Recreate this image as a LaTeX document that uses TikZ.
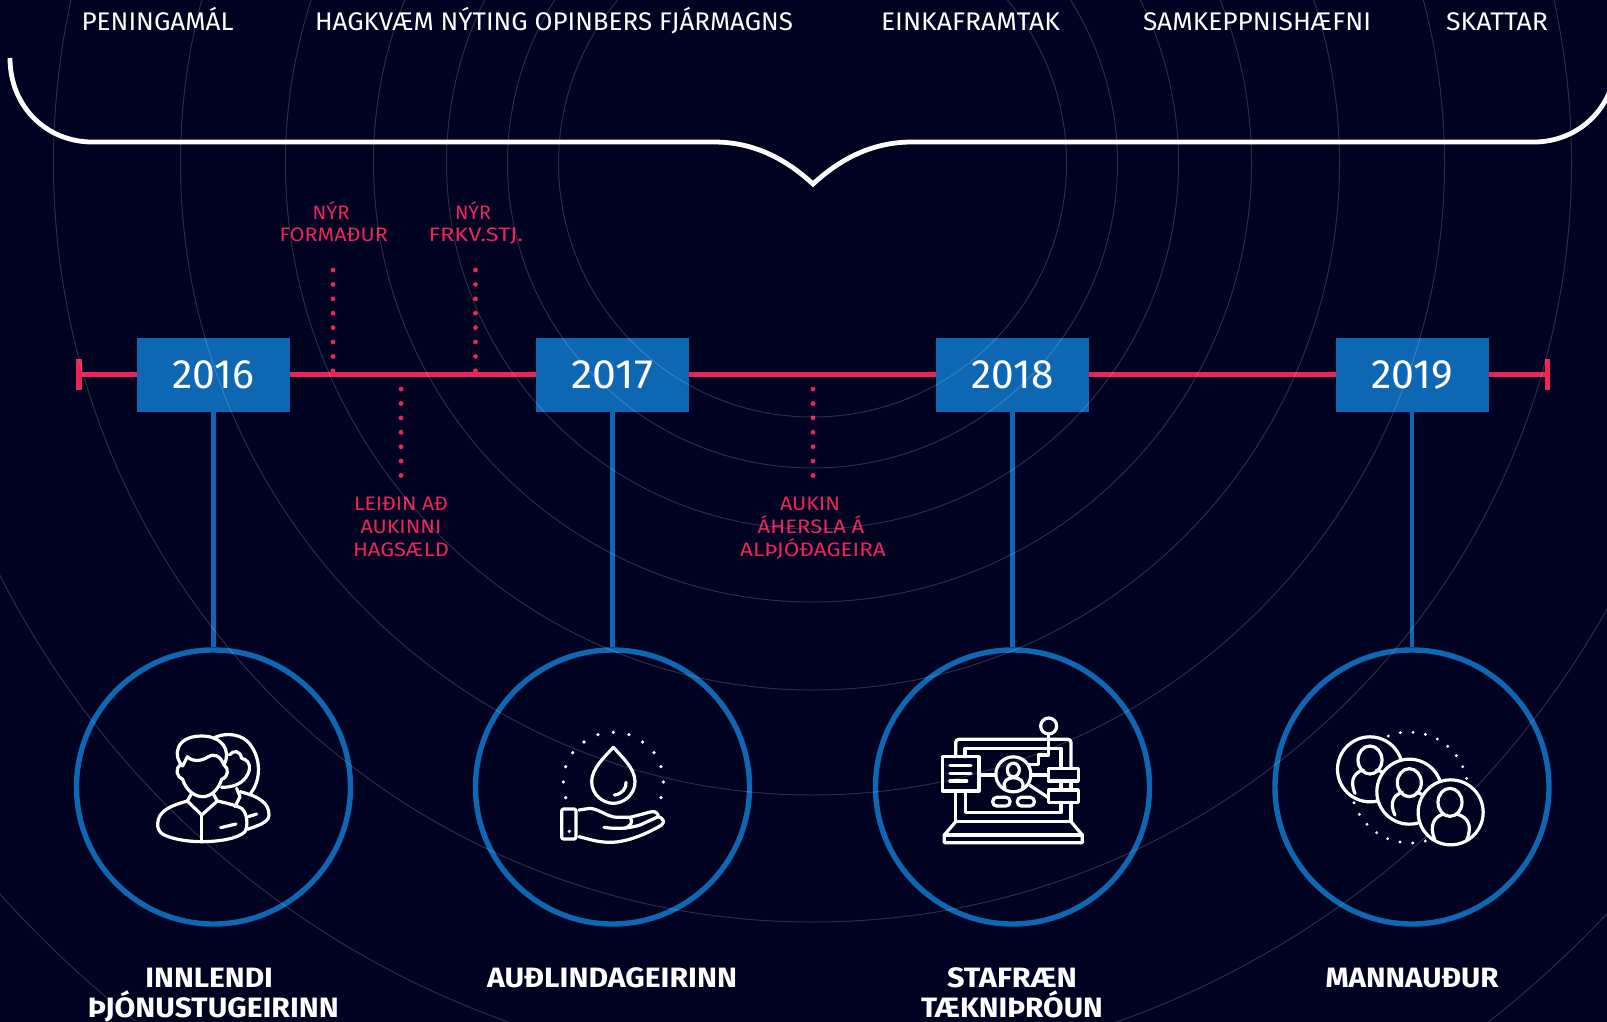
\documentclass[tikz,border=0pt]{standalone}
\usepackage{graphicx}
\usepackage{fontspec}
\setmainfont{Fira Sans}
\definecolor{bgnavy}{RGB}{0,2,33}
\definecolor{rosered}{RGB}{238,36,88}
\definecolor{yearblue}{RGB}{14,103,178}
\newcommand{\fw}[2]{\resizebox{#1pt}{\height}{#2}}
\tikzset{
  toptxt/.style={anchor=base,inner sep=0pt,text=white,font=\fontsize{25.5pt}{26pt}\selectfont},
  redtxt/.style={anchor=base,inner sep=0pt,text=rosered,font=\fontsize{19.5pt}{21pt}\selectfont},
  bigtxt/.style={anchor=base,inner sep=0pt,text=white,font=\bfseries\fontsize{28pt}{29pt}\selectfont},
  yearbox/.style={fill=yearblue,minimum width=153pt,minimum height=74pt,inner sep=0pt,text=white,font=\fontsize{41pt}{42pt}\selectfont},
  ring/.style={circle,draw=yearblue,line width=5.4pt,minimum size=274pt,inner sep=0pt},
  stem/.style={draw=yearblue,line width=4.2pt},
  timeline/.style={draw=rosered,line width=5.4pt},
  tick/.style={draw=rosered,line width=5.4pt},
  dotline/.style={draw=rosered,line width=4.8pt,line cap=round,dash pattern=on 0pt off 14.4pt},
  bracel/.style={draw=white,line width=4.8pt,miter limit=10},
  grid/.style={draw=white,opacity=0.17,line width=1pt},
  icon/.style={draw=white,line width=3.2pt,line join=round,line cap=round},
  zoomcrop/.style={x=0.33333pt,y=-0.33333pt}
}
\begin{document}
\begin{tikzpicture}[x=1pt,y=-1pt]
\useasboundingbox (0,0) rectangle (1607,1022);
\clip (0,0) rectangle (1607,1022);
\fill[bgnavy] (0,0) rectangle (1607,1022);

% timeline
\coordinate (tlL) at (79,374.7);
\coordinate (tlR) at (1547.5,374.7);
\draw[timeline] (tlL) -- (tlR);
\draw[tick] (79,359) -- (79,390);
\draw[tick] (1547.5,359) -- (1547.5,390);

% year boxes
\node[yearbox] (y16) at (213.5,375) {\fw{81.6}{2016}};
\node[yearbox] (y17) at (612.5,375) {\fw{81.6}{2017}};
\node[yearbox] (y18) at (1012.5,375) {\fw{81.6}{2018}};
\node[yearbox] (y19) at (1412,375) {\fw{81.6}{2019}};

% rings
\node[ring] (r16) at (213.5,787) {};
\node[ring] (r17) at (612.5,787) {};
\node[ring] (r18) at (1012.5,787) {};
\node[ring] (r19) at (1412,787) {};
\draw[stem] (y16.south) -- (r16.north);
\draw[stem] (y17.south) -- (r17.north);
\draw[stem] (y18.south) -- (r18.north);
\draw[stem] (y19.south) -- (r19.north);

% brace
\draw[bracel] (10,58) .. controls (10,108) and (48,142) .. (92,142) -- (714,142)
  .. controls (755,142) and (787,160) .. (813,184)
  .. controls (839,160) and (871,142) .. (912,142) -- (1534,142)
  .. controls (1578,142) and (1616,108) .. (1616,58);

% top labels
\node[toptxt] (t1) at (157.6,31) {\fw{152}{PENINGAMÁL}};
\node[toptxt] (t2) at (554,31) {\fw{478}{HAGKVÆM NÝTING OPINBERS FJÁRMAGNS}};
\node[toptxt] (t3) at (970.5,31) {\fw{179}{EINKAFRAMTAK}};
\node[toptxt] (t4) at (1257,31) {\fw{228}{SAMKEPPNISHÆFNI}};
\node[toptxt] (t5) at (1497,31) {\fw{102}{SKATTAR}};

% red labels
\node[redtxt] (a1) at (331,219.3) {\fw{37}{NÝR}};
\node[redtxt] (a2) at (333.7,241.3) {\fw{108}{FORMAÐUR}};
\node[redtxt] (b1) at (473,219.3) {\fw{36}{NÝR}};
\node[redtxt] (b2) at (475.8,241.3) {\fw{94.4}{FRKV.STJ.}};
\node[redtxt] (c1) at (401,510.7) {\fw{94}{LEIÐIN AÐ}};
\node[redtxt] (c2) at (401,533.5) {\fw{81}{AUKINNI}};
\node[redtxt] (c3) at (401,556) {\fw{96}{HAGSÆLD}};
\node[redtxt] (d1) at (810,510.7) {\fw{60}{AUKIN}};
\node[redtxt] (d2) at (811,533.5) {\fw{106.6}{ÁHERSLA Á}};
\node[redtxt] (d3) at (813,556) {\fw{145.6}{ALÞJÓÐAGEIRA}};

% dotted connectors
\coordinate (a) at (333,270); \coordinate (aT) at (333,372);
\coordinate (b) at (475.5,270); \coordinate (bT) at (475.5,372);
\coordinate (cT) at (401,374); \coordinate (c) at (401,475.5);
\coordinate (dT) at (813,374); \coordinate (d) at (813,475.5);
\draw[dotline] (a) -- (aT);
\draw[dotline] (b) -- (bT);
\draw[dotline] (c) -- (cT);
\draw[dotline] (d) -- (dT);

% bottom labels
\node[bigtxt] (n1) at (209.2,987.3) {\fw{127.6}{INNLENDI}};
\node[bigtxt] (n2) at (213.3,1017.7) {\fw{251}{ÞJÓNUSTUGEIRINN}};
\node[bigtxt] (n3) at (612,987.3) {\fw{250}{AUÐLINDAGEIRINN}};
\node[bigtxt] (n4) at (1012,987.3) {\fw{130}{STAFRÆN}};
\node[bigtxt] (n5) at (1012,1017.7) {\fw{181.6}{TÆKNIÞRÓUN}};
\node[bigtxt] (n6) at (1412,987.3) {\fw{173}{MANNAUÐUR}};

% concentric background arcs, lying over everything
\foreach \rr in {254,305,366,439,527,632,759,911,1093}
  \draw[grid] (812.5,163) circle (\rr);

% icon 1: two people
\begin{scope}[zoomcrop,shift={(130pt,-700pt)}]
\draw[icon] (255,112) .. controls (285,98) and (340,98) .. (365,140) .. controls (395,185) and (390,245) .. (362,280);
\draw[icon] (298,165) .. controls (310,150) and (330,150) .. (335,175) .. controls (350,178) and (362,190) .. (358,210) .. controls (350,240) and (325,262) .. (275,262);
\draw[icon] (320,265) -- (330,290) -- (315,320);
\draw[icon] (330,275) .. controls (390,290) and (417,310) .. (417,345) .. controls (417,368) and (380,378) .. (352,388);
\draw[icon] (355,350) -- (380,342);
\draw[icon] (158,198) .. controls (128,170) and (135,108) .. (215,108) .. controls (275,108) and (305,150) .. (282,195);
\draw[icon] (158,198) -- (172,170) .. controls (185,185) and (215,185) .. (235,170) .. controls (250,160) and (270,165) .. (282,195);
\draw[icon] (150,195) .. controls (135,205) and (140,232) .. (158,238) .. controls (168,272) and (195,290) .. (218,290) .. controls (242,290) and (265,270) .. (275,238) .. controls (295,232) and (298,205) .. (282,195);
\draw[icon] (185,280) -- (172,303) -- (215,345) -- (262,303) -- (250,282);
\draw[icon] (215,345) -- (215,425);
\draw[icon] (172,303) .. controls (130,315) and (83,330) .. (83,372) .. controls (83,395) and (95,402) .. (110,408) .. controls (140,420) and (180,425) .. (215,425) .. controls (270,425) and (325,415) .. (345,395) .. controls (355,375) and (352,340) .. (335,325) .. controls (315,315) and (285,308) .. (262,303);
\draw[icon] (272,383) -- (318,372);
\end{scope}

% icon 2: hand with drop
\begin{scope}[zoomcrop,shift={(530pt,-710pt)}]
\foreach \px/\py in {250/67,204/74,297/74,162/96,338/96,128/128,372/128,107/170,393/170,100/216,400/216,107/263,393/263}
  \fill[white] (\px,\py) circle [radius=1.8pt];
\fill[white] (118,364) circle [radius=1.8pt];
\draw[icon] (250,112) .. controls (225,140) and (185,175) .. (185,215) .. controls (185,255) and (220,280) .. (250,280) .. controls (280,280) and (315,255) .. (315,215) .. controls (315,175) and (275,140) .. (250,112) -- cycle;
\draw[icon] (253,255) .. controls (275,253) and (290,235) .. (288,217);
\draw[icon,rounded corners=2pt] (95,297) rectangle (138,387);
\draw[icon] (147,300) -- (180,295) .. controls (210,298) and (230,320) .. (260,322) -- (300,322) -- (365,305) .. controls (378,303) and (385,312) .. (385,320) .. controls (395,323) and (408,333) .. (395,345) .. controls (350,372) and (290,397) .. (240,397) .. controls (200,397) and (170,385) .. (147,380);
\draw[icon] (222,352) .. controls (260,358) and (300,355) .. (330,345) -- (385,320);
\draw[icon] (300,322) .. controls (312,335) and (300,350) .. (285,355);
\end{scope}

% icon 3: laptop
\begin{scope}[zoomcrop,shift={(925pt,-705pt)}]
\draw[icon] (371,63) circle [radius=8pt];
\draw[icon] (371,87) -- (371,150) -- (340,150) -- (340,178) -- (310,178);
\draw[icon,rounded corners=3pt] (92,155) -- (92,103) -- (438,103) -- (438,190);
\draw[icon] (438,228) -- (438,255);
\draw[icon] (438,292) -- (438,350) -- (92,350) -- (92,258);
\draw[icon] (120,155) -- (120,130) -- (408,130) -- (408,190);
\draw[icon] (408,228) -- (408,255);
\draw[icon] (408,292) -- (408,323) -- (122,323) -- (122,258);
\draw[icon] (52,155) rectangle (162,258);
\draw[icon] (75,182) -- (138,182);
\draw[icon] (75,205) -- (138,205);
\draw[icon] (75,228) -- (125,228);
\draw[icon] (162,210) -- (212,210);
\draw[icon] (265,208) circle [radius=17.5pt];
\draw[icon] (265,195) ellipse [x radius=6pt,y radius=6.8pt];
\draw[icon] (240,250) .. controls (230,228) and (250,218) .. (265,218) .. controls (285,218) and (300,230) .. (292,250);
\draw[icon] (318,210) -- (370,210);
\draw[icon] (310,238) -- (370,278);
\draw[icon] (370,190) rectangle (460,228);
\draw[icon] (370,255) rectangle (460,292);
\draw[icon,rounded corners=4pt] (203,277) rectangle (255,303);
\draw[icon,rounded corners=4pt] (277,277) rectangle (328,303);
\draw[icon] (92,350) -- (58,390) -- (58,413) -- (472,413) -- (472,390) -- (438,350);
\draw[icon] (58,390) -- (472,390);
\end{scope}

% icon 4: three people
\begin{scope}[zoomcrop,shift={(1320pt,-715pt)}]
\foreach \px/\py in {205/63,241/53,279/52,316/58,352/72,383/94,409/122,428/155,440/190,102/263,118/298,141/328,170/353,203/371,240/381,278/384,316/378}
  \fill[white] (\px,\py) circle [radius=1.6pt];
\draw[icon] (150,163) circle [radius=32.5pt];
\draw[icon] (150,135) ellipse [x radius=12pt,y radius=14pt];
\draw[icon] (105,235) .. controls (85,190) and (110,170) .. (130,165);
\draw[icon] (170,165) .. controls (195,170) and (215,190) .. (205,240);
\draw[icon,fill=bgnavy] (268,230) circle [radius=32.5pt];
\draw[icon] (268,203) ellipse [x radius=12pt,y radius=14pt];
\draw[icon] (225,300) .. controls (205,260) and (225,238) .. (247,232);
\draw[icon] (290,232) .. controls (320,240) and (330,260) .. (322,300);
\draw[icon,fill=bgnavy] (392,292) circle [radius=32.5pt];
\draw[icon] (390,262) ellipse [x radius=12pt,y radius=14pt];
\draw[icon] (345,375) .. controls (325,330) and (345,305) .. (368,298);
\draw[icon] (412,298) .. controls (440,305) and (460,330) .. (440,375);
\end{scope}
\end{tikzpicture}
\end{document}
